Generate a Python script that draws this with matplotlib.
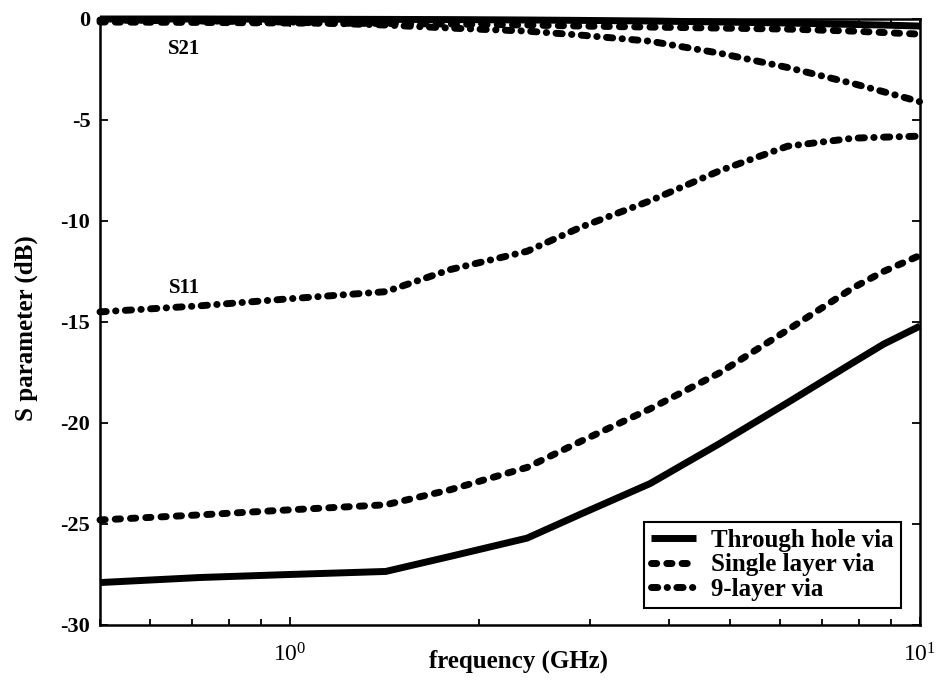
import numpy as np
import matplotlib
matplotlib.use("Agg")
import matplotlib.pyplot as plt
from matplotlib.ticker import LogLocator, MultipleLocator, NullFormatter

plt.rcParams['font.family'] = 'Liberation Serif'
plt.rcParams['font.weight'] = 'bold'
plt.rcParams['mathtext.fontset'] = 'custom'
plt.rcParams['mathtext.rm'] = 'Liberation Serif'
plt.rcParams['axes.unicode_minus'] = False

# frequency points (GHz)
freq = [0.5, 0.72, 1.0, 1.42, 1.8, 2.38, 2.9, 3.73, 4.82, 6.16, 7.84, 8.75, 10.0]

# S11 (dB)
s11_through = [-27.9, -27.65, -27.5, -27.35, -26.6, -25.7, -24.5, -23.0, -21.0, -19.0, -17.0, -16.1, -15.2]
s11_single = [-24.8, -24.55, -24.3, -24.05, -23.3, -22.2, -20.9, -19.3, -17.5, -15.4, -13.3, -12.5, -11.7]
s11_nine = [-14.5, -14.2, -13.85, -13.5, -12.4, -11.5, -10.3, -9.0, -7.5, -6.3, -5.9, -5.85, -5.8]

# S21 (dB)
s21_through = [0.0, 0.0, -0.01, -0.02, -0.03, -0.05, -0.07, -0.1, -0.15, -0.2, -0.27, -0.3, -0.35]
s21_single = [-0.15, -0.17, -0.2, -0.22, -0.25, -0.3, -0.35, -0.4, -0.45, -0.5, -0.6, -0.67, -0.75]
s21_nine = [-0.05, -0.1, -0.15, -0.3, -0.45, -0.6, -0.8, -1.1, -1.7, -2.4, -3.2, -3.6, -4.1]

labels = ["Through hole via", "Single layer via", "9-layer via"]

lw = 5
styles = [
    dict(ls='-', solid_capstyle='butt'),
    dict(ls=(0, (0.75, 1.45)), dash_capstyle='round'),
    dict(ls=(0, (0.9, 1.35, 0.05, 1.35)), dash_capstyle='round'),
]

fig = plt.figure(figsize=(9.37, 6.88), dpi=100)
ax = fig.add_axes([0.1067, 0.0916, 0.8752, 0.8808])

s11_all = [s11_through, s11_single, s11_nine]
s21_all = [s21_through, s21_single, s21_nine]
for s11, s21, lab, st in zip(s11_all, s21_all, labels, styles):
    ax.plot(freq, s11, color='black', lw=lw, label=lab, clip_on=False, **st)
    ax.plot(freq, s21, color='black', lw=lw, clip_on=False, zorder=3, **st)

ax.set_xscale('log')
ax.set_xlim(0.5, 10)
ax.set_ylim(-30, 0)
ax.yaxis.set_major_locator(MultipleLocator(5))
ax.xaxis.set_major_locator(LogLocator(base=10))
ax.xaxis.set_minor_locator(LogLocator(base=10, subs=np.arange(2, 10)))
ax.xaxis.set_minor_formatter(NullFormatter())

ax.tick_params(which='both', direction='in', top=True, right=True, width=1.3)
ax.tick_params(which='major', length=6)
ax.tick_params(which='minor', length=4)
ax.tick_params(axis='y', labelsize=16, pad=7)
ax.tick_params(axis='x', labelsize=17, pad=13)
for lbl in ax.get_xticklabels():
    lbl.set_fontweight('normal')
for sp in ax.spines.values():
    sp.set_linewidth(1.8)

ax.set_xlabel("frequency (GHz)", fontsize=18, fontweight='bold')
ax.set_ylabel("S parameter (dB)", fontsize=18, fontweight='bold')
ax.xaxis.set_label_coords(0.51, -0.04)
ax.yaxis.set_label_coords(-0.075, 0.49)

ax.text(0.68, -1.5, "S21", fontsize=15, fontweight='bold', ha='center', va='center')
ax.text(0.68, -13.3, "S11", fontsize=15, fontweight='bold', ha='center', va='center')

leg = ax.legend(loc='lower right', bbox_to_anchor=(0.977, 0.028), fontsize=18,
                frameon=True, fancybox=False, edgecolor='black', framealpha=1,
                handlelength=1.8, handletextpad=0.6, labelspacing=0.05,
                borderpad=0.3, borderaxespad=0)
leg.get_frame().set_linewidth(1.5)

fig.savefig("out.png", dpi=100)
